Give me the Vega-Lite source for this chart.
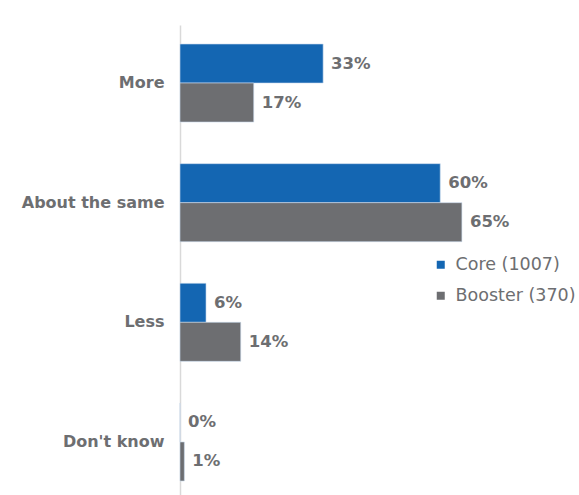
{
  "$schema": "https://vega.github.io/schema/vega-lite/v6.json",
  "width": 399,
  "height": 475,
  "autosize": "none",
  "padding": {"left": 180, "top": 25, "right": 0, "bottom": 0},
  "background": "white",
  "config": {"view": {"stroke": null}, "font": "DejaVu Sans"},
  "data": {
    "values": [
      {"category": "More", "series": "Core (1007)", "value": 0.33},
      {"category": "More", "series": "Booster (370)", "value": 0.17},
      {"category": "About the same", "series": "Core (1007)", "value": 0.60},
      {"category": "About the same", "series": "Booster (370)", "value": 0.65},
      {"category": "Less", "series": "Core (1007)", "value": 0.06},
      {"category": "Less", "series": "Booster (370)", "value": 0.14},
      {"category": "Don't know", "series": "Core (1007)", "value": 0},
      {"category": "Don't know", "series": "Booster (370)", "value": 0.01}
    ]
  },
  "encoding": {
    "y": {
      "field": "category",
      "type": "nominal",
      "sort": ["More", "About the same", "Less", "Don't know"],
      "scale": {"paddingInner": 0.348, "paddingOuter": 0.159},
      "axis": {
        "title": null,
        "ticks": false,
        "domainColor": "#D9D9D9",
        "domainWidth": 1.5,
        "labelFontSize": 16,
        "labelFontWeight": "bold",
        "labelColor": "#6D6E71",
        "labelPadding": 16
      }
    },
    "yOffset": {
      "field": "series",
      "type": "nominal",
      "sort": ["Core (1007)", "Booster (370)"]
    },
    "x": {
      "field": "value",
      "type": "quantitative",
      "scale": {"domain": [0, 0.92]},
      "axis": null
    }
  },
  "layer": [
    {
      "mark": {"type": "bar", "stroke": "#C9DAEC", "strokeWidth": 0.6},
      "encoding": {
        "color": {
          "field": "series",
          "type": "nominal",
          "sort": ["Core (1007)", "Booster (370)"],
          "scale": {"domain": ["Core (1007)", "Booster (370)"], "range": ["#1466B2", "#6D6E71"]},
          "legend": {
            "title": null,
            "orient": "none",
            "legendX": 252,
            "legendY": 231,
            "symbolType": "square",
            "symbolSize": 64,
            "symbolStrokeWidth": 0,
            "labelFontSize": 17.5,
            "labelColor": "#6D6E71",
            "rowPadding": 12,
            "labelOffset": 6
          }
        }
      }
    },
    {
      "mark": {"type": "text", "align": "left", "baseline": "middle", "dx": 8, "fontSize": 16.5, "fontWeight": "bold", "color": "#6D6E71"},
      "encoding": {
        "text": {"field": "value", "type": "quantitative", "format": ".0%"}
      }
    }
  ]
}
